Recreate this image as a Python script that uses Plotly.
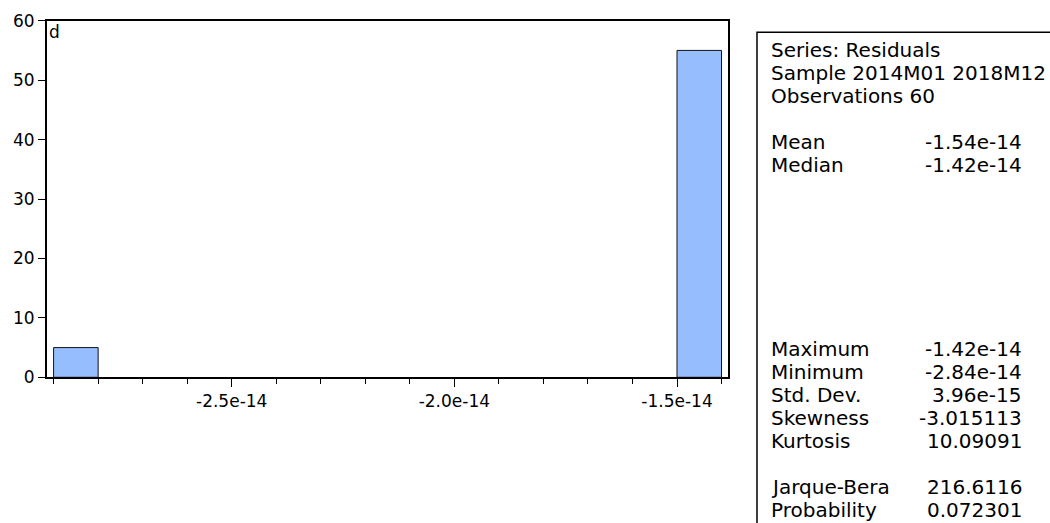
import plotly.graph_objects as go

# ---- data ----
bin_start = [-2.9e-14, -1.5e-14]
bin_width = 1e-15
counts = [5, 55]

x_tickvals = [-2.5e-14, -2.0e-14, -1.5e-14]
x_ticktext = ["-2.5e-14", "-2.0e-14", "-1.5e-14"]
y_tickvals = [0, 10, 20, 30, 40, 50, 60]

stat_rows = [0, 1, 2, 4, 5, 13, 14, 15, 16, 17, 19, 20]
stat_labels = ["Series: Residuals", "Sample 2014M01 2018M12", "Observations 60",
               "Mean", "Median", "Maximum", "Minimum", "Std. Dev.", "Skewness",
               "Kurtosis", "Jarque-Bera", "Probability"]
stat_values = ["", "", "", "-1.54e-14", "-1.42e-14", "-1.42e-14", "-2.84e-14",
               "3.96e-15", "-3.015113", "10.09091", "216.6116", "0.072301"]

W, H = 1050, 523
FONT = "DejaVu Sans"


def px(x):
    return x / W


def py(y):
    return (H - y) / H


centers = [s + bin_width / 2 for s in bin_start]

fig = go.Figure()
fig.add_trace(go.Bar(
    x=centers, y=counts, width=bin_width,
    marker=dict(color="#96BEFF", line=dict(color="#111111", width=1)),
    hoverinfo="skip",
))

fig.update_layout(
    width=W, height=H,
    margin=dict(l=0, r=0, t=0, b=0, autoexpand=False),
    paper_bgcolor="white", plot_bgcolor="white",
    showlegend=False,
    font=dict(family=FONT, color="black", size=17),
    xaxis=dict(
        domain=[px(46.7), px(728)],
        range=[-2.9155e-14, -1.3855e-14],
        tickvals=x_tickvals, ticktext=x_ticktext,
        ticks="outside", ticklen=8, tickwidth=1, tickcolor="black",
        minor=dict(tick0=-2.9e-14, dtick=1e-15, ticks="outside", ticklen=5,
                   tickwidth=1, tickcolor="black", showgrid=False),
        showgrid=False, zeroline=False, automargin=False,
        showline=True, mirror=True, linecolor="black", linewidth=1.5,
        tickfont=dict(family=FONT, size=17, color="black"),
    ),
    yaxis=dict(
        domain=[py(377.3), py(20.7)],
        range=[0, 60],
        tickvals=y_tickvals,
        ticks="outside", ticklen=7, tickwidth=1, tickcolor="black",
        showgrid=False, zeroline=False, automargin=False,
        showline=True, mirror=True, linecolor="black", linewidth=1.5,
        tickfont=dict(family=FONT, size=17, color="black"),
    ),
)

# stats box
fig.add_shape(type="rect", xref="paper", yref="paper",
              x0=px(757), x1=px(1060), y0=py(540), y1=py(32.3),
              line=dict(color="black", width=1.5), fillcolor="rgba(0,0,0,0)")

fig.add_annotation(xref="paper", yref="paper", x=px(46.5), y=py(31.5),
                   text="d", showarrow=False, xanchor="left", yanchor="middle",
                   font=dict(family=FONT, size=17, color="black"))

for r, lab, val in zip(stat_rows, stat_labels, stat_values):
    yc = 49.5 + 23.0 * r
    fig.add_annotation(xref="paper", yref="paper", x=px(769), y=py(yc),
                       text=lab, showarrow=False, xanchor="left", yanchor="middle",
                       font=dict(family=FONT, size=20, color="black"))
    if val:
        fig.add_annotation(xref="paper", yref="paper", x=px(1024), y=py(yc),
                           text=val, showarrow=False, xanchor="right", yanchor="middle",
                           font=dict(family=FONT, size=20, color="black"))

fig.write_html("out.html")
